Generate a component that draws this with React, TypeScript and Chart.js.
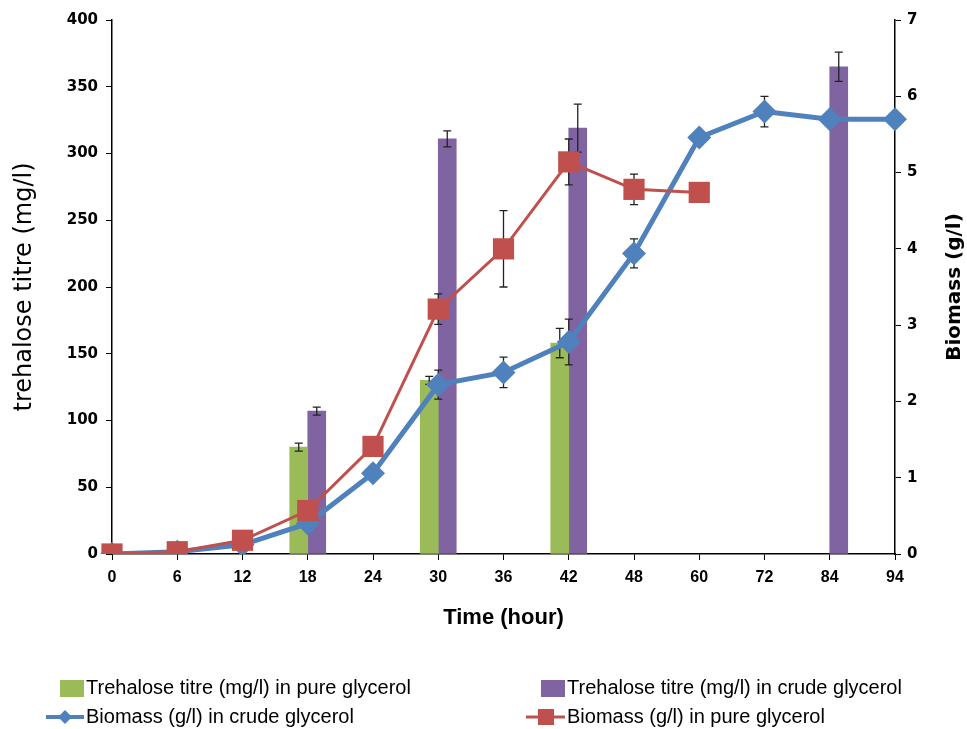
import { useEffect, useRef } from "react";
import { Chart, registerables } from "chart.js";

Chart.register(...registerables);

const categories = ["0", "6", "12", "18", "24", "30", "36", "42", "48", "60", "72", "84", "94"];

const trehalosePure = [null, null, null, 80, null, 130, null, 158, null, null, null, null, null];
const trehalosePureErr = [0, 0, 0, 3, 0, 3, 0, 11, 0, 0, 0, 0, 0];

const trehaloseCrude = [null, null, null, 107, null, 311, null, 319, null, null, null, 365, null];
const trehaloseCrudeErr = [0, 0, 0, 3, 0, 6, 0, 18, 0, 0, 0, 11, 0];

const biomassCrude = [0, 0.03, 0.12, 0.4, 1.06, 2.22, 2.38, 2.78, 3.94, 5.46, 5.8, 5.7, 5.7];
const biomassCrudeErr = [0, 0, 0, 0, 0, 0.19, 0.2, 0.3, 0.19, 0, 0.2, 0, 0];

const biomassPure = [0, 0.03, 0.18, 0.57, 1.41, 3.21, 4.0, 5.14, 4.78, 4.74, null, null, null];
const biomassPureErr = [0, 0, 0, 0, 0, 0.2, 0.5, 0.3, 0.2, 0, 0, 0, 0];

const leftTicks = [0, 50, 100, 150, 200, 250, 300, 350, 400];
const rightTicks = [0, 1, 2, 3, 4, 5, 6, 7];

const labels = {
  pure: "Trehalose titre (mg/l) in pure glycerol",
  crude: "Trehalose titre (mg/l) in crude glycerol",
  bioCrude: "Biomass (g/l) in crude glycerol",
  bioPure: "Biomass (g/l) in pure glycerol",
};

const GREEN = "#9BBB59";
const PURPLE = "#8064A2";
const BLUE = "#4F81BD";
const RED = "#C0504D";

const valueSets: (number | null)[][] = [trehalosePure, trehaloseCrude, biomassCrude, biomassPure];
const errorSets: number[][] = [trehalosePureErr, trehaloseCrudeErr, biomassCrudeErr, biomassPureErr];

function drawErrors(chart: any, index: number) {
  const meta = chart.getDatasetMeta(index);
  const vals = valueSets[index];
  const errs = errorSets[index];
  if (!vals || !errs) return;
  const scale = chart.scales[meta.yAxisID];
  const ctx = chart.ctx;
  ctx.save();
  ctx.strokeStyle = "#222";
  ctx.lineWidth = 1.3;
  meta.data.forEach((el: any, i: number) => {
    const v = vals[i];
    const e = errs[i];
    if (v == null || !e) return;
    const x = el.x;
    const yTop = scale.getPixelForValue(v + e);
    const yBot = scale.getPixelForValue(v - e);
    ctx.beginPath();
    ctx.moveTo(x, yTop);
    ctx.lineTo(x, yBot);
    ctx.moveTo(x - 4, yTop);
    ctx.lineTo(x + 4, yTop);
    ctx.moveTo(x - 4, yBot);
    ctx.lineTo(x + 4, yBot);
    ctx.stroke();
  });
  ctx.restore();
}

const errorBarPlugin = {
  id: "errorBars",
  beforeDatasetDraw(chart: any, args: any) {
    if (args.meta.type === "line") drawErrors(chart, args.index);
  },
  afterDatasetDraw(chart: any, args: any) {
    if (args.meta.type === "bar") drawErrors(chart, args.index);
  },
};

const decorPlugin = {
  id: "decor",
  afterDraw(chart: any) {
    const ctx = chart.ctx;
    const area = chart.chartArea;
    ctx.save();
    // right axis title (reads bottom to top)
    ctx.fillStyle = "#000";
    ctx.font = "bold 20px 'DejaVu Sans'";
    ctx.textAlign = "center";
    ctx.textBaseline = "middle";
    ctx.translate(955, (area.top + area.bottom) / 2);
    ctx.rotate(-Math.PI / 2);
    ctx.fillText("Biomass (g/l)", 0, 0);
    ctx.restore();

    // legend
    ctx.save();
    ctx.font = "20px 'Liberation Sans'";
    ctx.textAlign = "left";
    ctx.textBaseline = "middle";
    ctx.fillStyle = "#000";
    const row1 = 688;
    const row2 = 717;
    ctx.fillStyle = GREEN;
    ctx.fillRect(60, row1 - 8, 24, 17);
    ctx.fillStyle = "#000";
    ctx.fillText(labels.pure, 86, row1);
    ctx.fillStyle = PURPLE;
    ctx.fillRect(541, row1 - 8, 24, 17);
    ctx.fillStyle = "#000";
    ctx.fillText(labels.crude, 567, row1);
    ctx.strokeStyle = BLUE;
    ctx.lineWidth = 4;
    ctx.beginPath();
    ctx.moveTo(46, row2);
    ctx.lineTo(84, row2);
    ctx.stroke();
    ctx.fillStyle = BLUE;
    ctx.beginPath();
    ctx.moveTo(65, row2 - 7);
    ctx.lineTo(72, row2);
    ctx.lineTo(65, row2 + 7);
    ctx.lineTo(58, row2);
    ctx.closePath();
    ctx.fill();
    ctx.fillStyle = "#000";
    ctx.fillText(labels.bioCrude, 86, row2);
    ctx.strokeStyle = RED;
    ctx.lineWidth = 3;
    ctx.beginPath();
    ctx.moveTo(526, row2);
    ctx.lineTo(565, row2);
    ctx.stroke();
    ctx.fillStyle = RED;
    ctx.fillRect(538, row2 - 8, 16, 16);
    ctx.fillStyle = "#000";
    ctx.fillText(labels.bioPure, 567, row2);
    ctx.restore();
  },
};

export default function App() {
  const canvasRef = useRef<HTMLCanvasElement | null>(null);

  useEffect(() => {
    const canvas = canvasRef.current;
    if (!canvas) return;
    const chart = new Chart(canvas, {
      type: "bar",
      data: {
        labels: categories,
        datasets: [
          {
            type: "bar",
            label: labels.pure,
            data: trehalosePure,
            backgroundColor: GREEN,
            yAxisID: "y",
            barThickness: 18,
            order: 3,
          },
          {
            type: "bar",
            label: labels.crude,
            data: trehaloseCrude,
            backgroundColor: PURPLE,
            yAxisID: "y",
            barThickness: 18,
            order: 3,
          },
          {
            type: "line",
            label: labels.bioCrude,
            data: biomassCrude,
            borderColor: BLUE,
            backgroundColor: BLUE,
            borderWidth: 5,
            pointStyle: "rectRot",
            pointRadius: 12,
            pointBorderWidth: 0,
            yAxisID: "y1",
            tension: 0,
            order: 2,
          },
          {
            type: "line",
            label: labels.bioPure,
            data: biomassPure,
            borderColor: RED,
            backgroundColor: RED,
            borderWidth: 3,
            pointStyle: "rect",
            pointRadius: 15,
            pointBorderWidth: 0,
            yAxisID: "y1",
            tension: 0,
            order: 1,
          },
        ] as any,
      },
      options: {
        responsive: false,
        animation: false,
        layout: { padding: { top: 20, left: 0, right: 0, bottom: 0 } },
        plugins: {
          legend: { display: false },
          tooltip: { enabled: false },
        },
        scales: {
          x: {
            type: "category",
            offset: false,
            grid: { offset: false, drawOnChartArea: false, drawTicks: true, tickLength: 6, color: "#000" },
            border: { color: "#000", width: 1.5 },
            ticks: {
              color: "#000",
              font: { family: "'Liberation Sans'", weight: "bold", size: 16 },
              padding: 8,
              maxRotation: 0,
              autoSkip: false,
            },
            title: {
              display: true,
              text: "Time (hour)",
              color: "#000",
              font: { family: "'Liberation Sans'", weight: "bold", size: 22 },
              padding: { top: 0, bottom: 98 },
            },
            afterFit: (s: any) => {
              s.height = 175;
            },
          },
          y: {
            position: "left",
            min: 0,
            max: 400,
            afterBuildTicks: (s: any) => {
              s.ticks = leftTicks.map((v) => ({ value: v }));
            },
            grid: { drawOnChartArea: false, drawTicks: true, tickLength: 6, color: "#000" },
            border: { color: "#000", width: 1.5 },
            ticks: {
              color: "#000",
              font: { family: "'DejaVu Sans'", weight: "bold", size: 15 },
              padding: 8,
            },
            title: {
              display: true,
              text: "trehalose titre (mg/l)",
              color: "#000",
              font: { family: "'DejaVu Sans'", size: 24 },
              padding: { top: 10, bottom: 0 },
            },
            afterFit: (s: any) => {
              s.width = 112;
            },
          },
          y1: {
            position: "right",
            min: 0,
            max: 7,
            afterBuildTicks: (s: any) => {
              s.ticks = rightTicks.map((v) => ({ value: v }));
            },
            grid: { drawOnChartArea: false, drawTicks: true, tickLength: 6, color: "#000" },
            border: { color: "#000", width: 1.5 },
            ticks: {
              color: "#000",
              font: { family: "'DejaVu Sans'", weight: "bold", size: 15 },
              padding: 6,
            },
            afterFit: (s: any) => {
              s.width = 72;
            },
          },
        },
      } as any,
      plugins: [errorBarPlugin, decorPlugin],
    });
    return () => chart.destroy();
  }, []);

  return (
    <div style={{ position: "absolute", left: 0, top: 0, width: 967, height: 729, background: "#fff" }}>
      <canvas ref={canvasRef} width={967} height={729} />
    </div>
  );
}
